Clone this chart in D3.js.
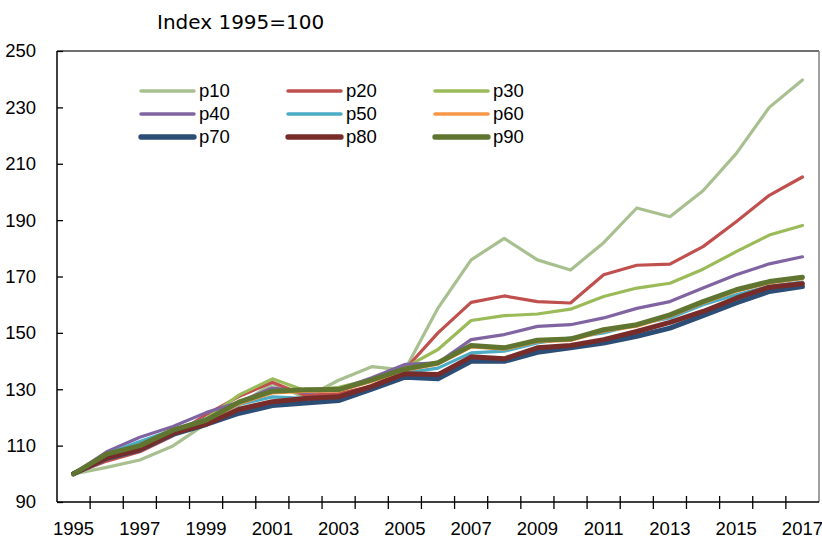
<!DOCTYPE html>
<html>
<head>
<meta charset="utf-8">
<script src="https://cdnjs.cloudflare.com/ajax/libs/d3/7.8.5/d3.min.js"></script>
<style>
  body { margin: 0; background: #fff; }
  svg text { font-family: "Liberation Sans Narrow", "Liberation Sans", sans-serif; fill: #000; }
  .title { font-family: "DejaVu Sans", sans-serif; }
</style>
</head>
<body>
<div id="chart"></div>
<script>
// data (index, 1995 = 100)
var years = d3.range(1995, 2018);
var yTicks = [90, 110, 130, 150, 170, 190, 210, 230, 250];

var p10 = [100, 102.3, 104.9, 109.9, 117.8, 124.5, 132, 127, 133.2, 138, 136.8, 158.8, 175.9, 183.5, 175.9, 172.3, 182, 194.3, 191.2, 200.4, 213.6, 230, 239.7];
var p20 = [100, 104.5, 107.8, 113.5, 121, 127.5, 132.5, 127.8, 128.5, 131, 137, 150, 160.8, 163.1, 161.1, 160.6, 170.6, 174, 174.4, 180.6, 189.4, 198.8, 205.3];
var p30 = [100, 106, 110, 115, 119.5, 128, 133.7, 129.5, 130.7, 133.5, 137.7, 144.1, 154.4, 156.1, 156.7, 158.4, 162.9, 165.9, 167.6, 172.6, 178.8, 184.7, 188.1];
var p40 = [100, 107.8, 113, 116.8, 121.7, 125.5, 130.5, 128.8, 129.9, 134.1, 138.8, 139.4, 147.6, 149.4, 152.3, 152.9, 155.3, 158.7, 161.1, 165.9, 170.6, 174.5, 177];
var p50 = [100, 107, 111.5, 115.5, 119.5, 124.6, 127.3, 126.8, 127.5, 131, 135.8, 137.5, 142.9, 143.5, 146.4, 148.2, 150, 153, 155.3, 160, 163.5, 166.5, 168];
var p60 = [100, 106.6, 110.2, 115, 118.6, 124.9, 128.7, 129.2, 129.4, 132.8, 136.7, 138.9, 145, 144.2, 146.9, 147.3, 150.6, 152.4, 155.9, 160.6, 164.8, 167.7, 169.2];
var p70 = [100, 105.5, 108.5, 114, 117.5, 121.5, 124.2, 125.1, 126, 130, 134.3, 133.7, 139.9, 139.9, 143.1, 144.7, 146.4, 148.8, 151.7, 156.1, 160.6, 164.7, 166.4];
var p80 = [100, 105.8, 108.7, 114.4, 117.6, 122.9, 125.6, 126.7, 127.3, 131, 135.5, 135.2, 141.5, 140.8, 144.7, 145.5, 147.6, 150.5, 153.7, 157.6, 162.3, 166.2, 167.4];
var p90 = [100, 107, 110, 115.5, 119, 125.5, 129.3, 129.8, 129.9, 133.3, 137.2, 139.4, 145.5, 144.7, 147.4, 147.8, 151.1, 152.9, 156.4, 161.1, 165.3, 168.2, 169.7];

var seriesNames = ["p10", "p20", "p30", "p40", "p50", "p60", "p70", "p80", "p90"];
var seriesValues = [p10, p20, p30, p40, p50, p60, p70, p80, p90];
var colors = ["#A8C090", "#C0504D", "#9BBB59", "#8064A2", "#4BACC6", "#F79646", "#2C4D75", "#772C2A", "#5F7530"];
var widths = [3.2, 3.2, 3.2, 3.2, 3.2, 3.2, 5, 5, 5];

var W = 822, H = 539;
var margin = {top: 51, right: 3, bottom: 37, left: 57};
var w = W - margin.left - margin.right;
var h = H - margin.top - margin.bottom;

var svg = d3.select("#chart").append("svg")
    .attr("width", W)
    .attr("height", H);

var g = svg.append("g")
    .attr("transform", "translate(" + margin.left + "," + margin.top + ")");

var x = d3.scaleBand().domain(years).range([0, w]);
var y = d3.scaleLinear().domain([90, 250]).range([h, 0]);

//plot frame
g.append("line").attr("x1", 0).attr("x2", w).attr("y1", 0).attr("y2", 0)
    .attr("stroke", "#404040").attr("stroke-width", 1.5);
g.append("line").attr("x1", w).attr("x2", w).attr("y1", 0).attr("y2", h)
    .attr("stroke", "#808080").attr("stroke-width", 1.5);

//y axis, ticks pointing into the plot
var yAxis = g.append("g")
    .call(d3.axisRight(y).tickValues(yTicks).tickSize(6).tickFormat(""));
yAxis.select(".domain").remove();
yAxis.selectAll("line").attr("stroke", "#000").attr("stroke-width", 1.3);
g.append("line").attr("x1", 0).attr("x2", 0).attr("y1", 0).attr("y2", h)
    .attr("stroke", "#000").attr("stroke-width", 1.5);

g.selectAll(".ylab")
    .data(yTicks)
    .enter().append("text")
    .attr("class", "ylab")
    .attr("x", -21)
    .attr("y", function(d) { return y(d); })
    .attr("dy", "0.35em")
    .attr("text-anchor", "end")
    .style("font-size", "18.5px")
    .text(function(d) { return d; });

//x axis: ticks on the category boundaries, labels every other year
var bounds = years.map(function(d) { return x(d); }).concat([w]);
g.selectAll(".xtick")
    .data(bounds.slice(1, -1))
    .enter().append("line")
    .attr("class", "xtick")
    .attr("x1", function(d) { return d; })
    .attr("x2", function(d) { return d; })
    .attr("y1", h - 6)
    .attr("y2", h + 7)
    .attr("stroke", "#000")
    .attr("stroke-width", 1.3);
g.append("line").attr("x1", 0).attr("x2", w).attr("y1", h).attr("y2", h)
    .attr("stroke", "#000").attr("stroke-width", 1.5);

g.selectAll(".xlab")
    .data(years.filter(function(d) { return (d - 1995) % 2 == 0; }))
    .enter().append("text")
    .attr("class", "xlab")
    .attr("x", function(d) { return x(d) + x.bandwidth() / 2; })
    .attr("y", h + 27)
    .attr("dy", "0.35em")
    .attr("text-anchor", "middle")
    .style("font-size", "18.5px")
    .text(function(d) { return d; });

//lines
var line = d3.line()
    .x(function(d, i) { return x(years[i]) + x.bandwidth() / 2; })
    .y(function(d) { return y(d); });

seriesValues.forEach(function(vals, k) {
    g.append("path")
        .datum(vals)
        .attr("d", line)
        .attr("fill", "none")
        .attr("stroke", colors[k])
        .attr("stroke-width", widths[k])
        .attr("stroke-linejoin", "round")
        .attr("stroke-linecap", "round");
});

//legend, 3 columns
var legend = svg.append("g");
seriesNames.forEach(function(name, k) {
    var col = k % 3, row = Math.floor(k / 3);
    var lx = 141 + col * 147, ly = 91 + row * 23;
    legend.append("line")
        .attr("x1", lx).attr("x2", lx + 53)
        .attr("y1", ly).attr("y2", ly)
        .attr("stroke", colors[k])
        .attr("stroke-width", widths[k] + 0.3)
        .attr("stroke-linecap", "round");
    legend.append("text")
        .attr("x", lx + 58)
        .attr("y", ly)
        .attr("dy", "0.35em")
        .style("font-size", "18.5px")
        .text(name);
});

svg.append("text")
    .attr("class", "title")
    .attr("x", 157)
    .attr("y", 22)
    .attr("dy", "0.35em")
    .style("font-size", "20px")
    .text("Index 1995=100");
</script>
</body>
</html>
